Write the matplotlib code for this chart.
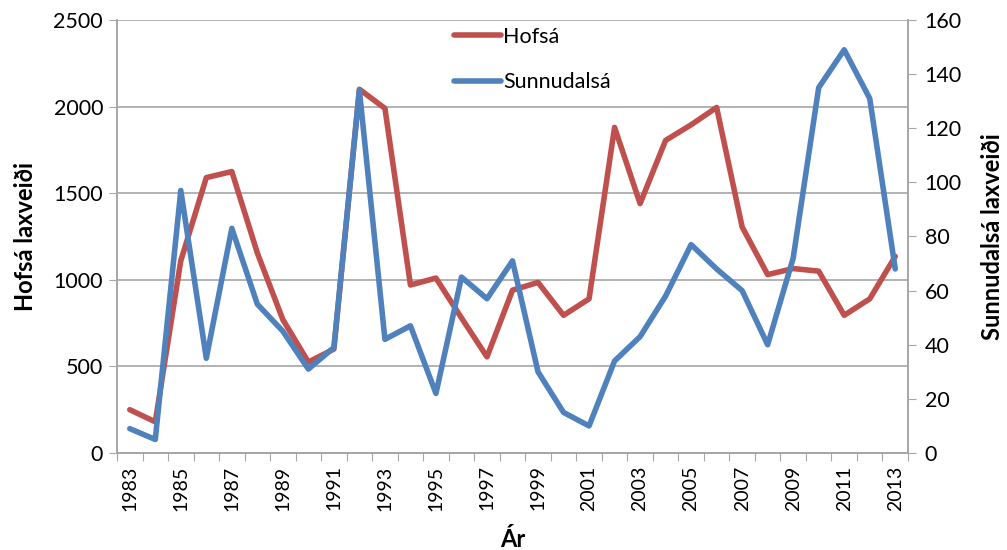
import matplotlib
matplotlib.use("Agg")
import matplotlib.pyplot as plt
import numpy as np

years = list(range(1983, 2014))
hofsa = [250, 180, 1110, 1590, 1625, 1155, 770, 525, 600, 2100, 1990, 970, 1010, 780, 555,
         940, 985, 795, 890, 1880, 1440, 1805, 1895, 1995, 1305, 1030, 1065, 1050, 795, 890, 1135]
sunnudalsa = [9, 5, 97, 35, 83, 55, 45, 31, 39, 134, 42, 47, 22, 65, 57, 71, 30, 15, 10, 34, 43,
              58, 77, 68, 60, 40, 72, 135, 149, 131, 68]
left_ticks = [0, 500, 1000, 1500, 2000, 2500]
right_ticks = [0, 20, 40, 60, 80, 100, 120, 140, 160]

plt.rcParams['font.family'] = ['Lato', 'DejaVu Sans']
RED = '#C0504D'
BLUE = '#4F81BD'
GRID = '#A6A6A6'

fig = plt.figure(figsize=(10.07, 5.5), dpi=100)
ax = fig.add_axes([117/1007, 1-453/550, (908-117)/1007, (453-20)/550])
ax2 = ax.twinx()

x = np.arange(len(years))
l1, = ax.plot(x, hofsa, color=RED, lw=4.0, solid_joinstyle='round', solid_capstyle='round', label='Hofsá', zorder=3)
l2, = ax2.plot(x, sunnudalsa, color=BLUE, lw=4.0, solid_joinstyle='round', solid_capstyle='round', label='Sunnudalsá', zorder=3)

ax.set_xlim(-0.5, len(years) - 0.5)
ax.set_ylim(0, 2500)
ax2.set_ylim(0, 160)
ax.set_yticks(left_ticks)
ax.set_yticklabels([str(v) for v in left_ticks], fontsize=15.5)
ax2.set_yticks(right_ticks)
ax2.set_yticklabels([str(v) for v in right_ticks], fontsize=15.5)

# x ticks: marks at category boundaries, labels every other year
ax.set_xticks(np.arange(-0.5, len(years), 1.0))
ax.set_xticklabels([])
ax.set_xticks(x[::2], minor=True)
ax.set_xticklabels([str(y) for y in years[::2]], minor=True, rotation=90, fontsize=14)
ax.tick_params(axis='x', which='major', length=6, color=GRID, direction='out')
ax.tick_params(axis='x', which='minor', length=0, pad=9)
ax.tick_params(axis='y', length=6, color=GRID, pad=4)
ax2.tick_params(axis='y', length=6, color=GRID, pad=6)

ax.grid(axis='y', color=GRID, lw=1.2)
ax.set_axisbelow(True)
for a in (ax, ax2):
    a.spines['top'].set_visible(False)
    for s in ('left', 'right', 'bottom'):
        a.spines[s].set_color(GRID)
        a.spines[s].set_linewidth(1.2)

ax.set_ylabel('Hofsá laxveiði', fontsize=17, fontweight='bold', labelpad=12)
ax2.set_ylabel('Sunnudalsá laxveiði', fontsize=17, fontweight='bold', labelpad=14)
ax.set_xlabel('Ár', fontsize=17, fontweight='bold', labelpad=12)

fig.legend(handles=[l1, l2], loc='upper left', bbox_to_anchor=(445/1007, 1-18/550),
           frameon=False, fontsize=15.5, handlelength=2.2, handletextpad=0.1,
           labelspacing=1.2, borderaxespad=0)

fig.savefig('out.png', dpi=100)
